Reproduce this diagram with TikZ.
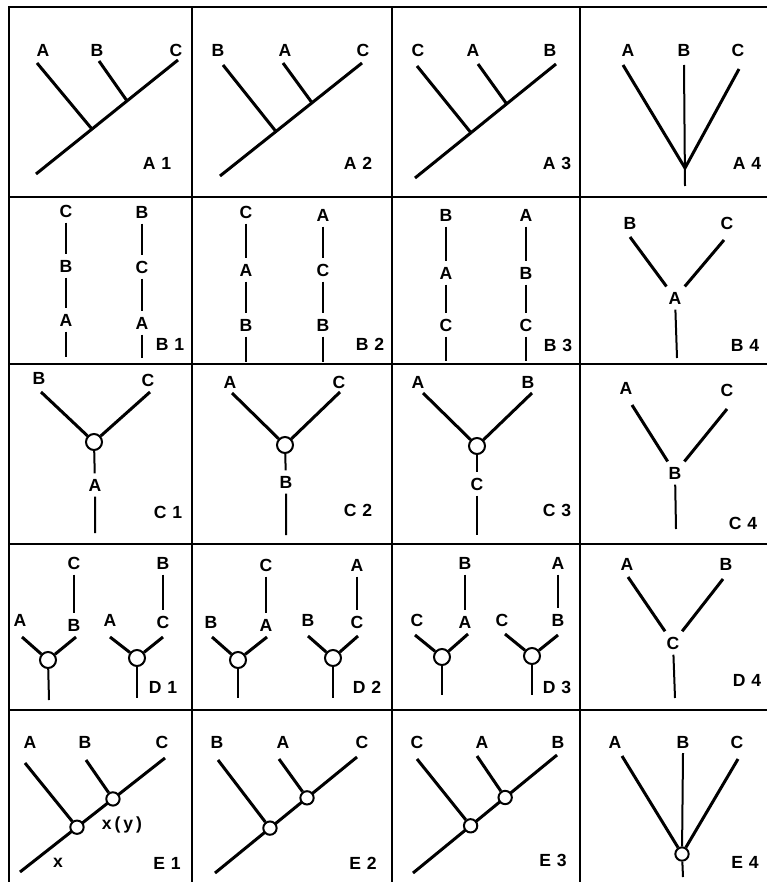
\documentclass[tikz,border=0pt]{standalone}
\usepackage{fontspec}
\setmainfont{Liberation Sans}
\usetikzlibrary{calc}

\begin{document}
\begin{tikzpicture}[
  x=0.3mm,y=-0.3mm,
  font=\bfseries\fontsize{15}{17}\selectfont,
  grid/.style={line width=0.6mm},
  branch/.style={line width=0.9mm},
  stem/.style={line width=0.6mm},
  lbl/.style={inner sep=4.5pt},
  tag/.style={inner sep=0pt},
  knot/.style={circle,draw,fill=white,line width=0.6mm,minimum size=4.8mm,inner sep=0pt},
  knotsm/.style={knot,minimum size=4mm}
]
\useasboundingbox (0,0) rectangle (767,882);
% table
\draw[grid] (8.5,882) -- (8.5,7.5) -- (767,7.5);
\draw[grid] (192,7.5) -- (192,882);
\draw[grid] (392,7.5) -- (392,882);
\draw[grid] (580,7.5) -- (580,882);
\draw[grid] (8.5,197) -- (767,197);
\draw[grid] (8.5,364) -- (767,364);
\draw[grid] (8.5,544) -- (767,544);
\draw[grid] (8.5,710) -- (767,710);

% row A
\node[lbl] (a1A) at (43,50) {A};
\node[lbl] (a1B) at (97,50) {B};
\node[lbl] (a1C) at (176,50) {C};
\coordinate (a1tA) at (37,63); \coordinate (a1tB) at (99,61); \coordinate (a1tC) at (178,60);
\coordinate (a1r) at (36,174);
\coordinate (a1j1) at ($(a1r)!0.394!(a1tC)$); \coordinate (a1j2) at ($(a1r)!0.641!(a1tC)$);
\draw[branch] (a1r) -- (a1tC) (a1tA) -- (a1j1) (a1tB) -- (a1j2);
\node[tag] (a1) at (157,163) {A\hspace{5pt}1};

\node[lbl] (a2B) at (218,50) {B};
\node[lbl] (a2A) at (285,50) {A};
\node[lbl] (a2C) at (363,50) {C};
\coordinate (a2tB) at (223,65); \coordinate (a2tA) at (283,63); \coordinate (a2tC) at (362,63);
\coordinate (a2r) at (220,176);
\coordinate (a2j1) at ($(a2r)!0.394!(a2tC)$); \coordinate (a2j2) at ($(a2r)!0.648!(a2tC)$);
\draw[branch] (a2r) -- (a2tC) (a2tB) -- (a2j1) (a2tA) -- (a2j2);
\node[tag] (a2) at (358,163) {A\hspace{5pt}2};

\node[lbl] (a3C) at (418,50) {C};
\node[lbl] (a3A) at (473,50) {A};
\node[lbl] (a3B) at (550,50) {B};
\coordinate (a3tC) at (417,66); \coordinate (a3tA) at (478,64); \coordinate (a3tB) at (556,64);
\coordinate (a3r) at (415,178);
\coordinate (a3j1) at ($(a3r)!0.397!(a3tB)$); \coordinate (a3j2) at ($(a3r)!0.65!(a3tB)$);
\draw[branch] (a3r) -- (a3tB) (a3tC) -- (a3j1) (a3tA) -- (a3j2);
\node[tag] (a3) at (557,163) {A\hspace{5pt}3};

\node[lbl] (a4A) at (628,50) {A};
\node[lbl] (a4B) at (684,50) {B};
\node[lbl] (a4C) at (738,50) {C};
\coordinate (a4tA) at (623,65); \coordinate (a4tB) at (684,65); \coordinate (a4tC) at (739,69);
\coordinate (a4v) at (685,168); \coordinate (a4b) at (685,186);
\draw[branch] (a4tA) -- (a4v) -- (a4tC);
\draw[stem] (a4tB) -- (a4b);
\node[tag] (a4) at (747,163) {A\hspace{5pt}4};

% row B
\node[lbl] (b1lC) at (66,211) {C};
\node[lbl] (b1lB) at (66,266) {B};
\node[lbl] (b1lA) at (66,320) {A};
\coordinate (b1lb) at (66,357);
\node[lbl] (b1rB) at (142,212) {B};
\node[lbl] (b1rC) at (142,267) {C};
\node[lbl] (b1rA) at (142,323) {A};
\coordinate (b1rb) at (142,358);
\draw[stem] (b1lC) -- (b1lB) -- (b1lA) -- (b1lb);
\draw[stem] (b1rB) -- (b1rC) -- (b1rA) -- (b1rb);
\node[tag] (b1) at (170,344) {B\hspace{5pt}1};

\node[lbl] (b2lC) at (246,212) {C};
\node[lbl] (b2lA) at (246,270) {A};
\node[lbl] (b2lB) at (246,325) {B};
\coordinate (b2lb) at (246,362);
\node[lbl] (b2rA) at (323,215) {A};
\node[lbl] (b2rC) at (323,270) {C};
\node[lbl] (b2rB) at (323,325) {B};
\coordinate (b2rb) at (323,362);
\draw[stem] (b2lC) -- (b2lA) -- (b2lB) -- (b2lb);
\draw[stem] (b2rA) -- (b2rC) -- (b2rB) -- (b2rb);
\node[tag] (b2) at (370,344) {B\hspace{5pt}2};

\node[lbl] (b3lB) at (446,215) {B};
\node[lbl] (b3lA) at (446,273) {A};
\node[lbl] (b3lC) at (446,325) {C};
\coordinate (b3lb) at (446,361);
\node[lbl] (b3rA) at (526,215) {A};
\node[lbl] (b3rB) at (526,273) {B};
\node[lbl] (b3rC) at (526,325) {C};
\coordinate (b3rb) at (526,361);
\draw[stem] (b3lB) -- (b3lA) -- (b3lC) -- (b3lb);
\draw[stem] (b3rA) -- (b3rB) -- (b3rC) -- (b3rb);
\node[tag] (b3) at (558,345) {B\hspace{5pt}3};

\node[lbl] (b4B) at (630,223) {B};
\node[lbl] (b4C) at (727,223) {C};
\node[lbl] (b4A) at (675,298) {A};
\coordinate (b4tB) at (630,237); \coordinate (b4tC) at (724,240); \coordinate (b4b) at (677,358);
\draw[branch] (b4tB) -- (b4A) (b4tC) -- (b4A);
\draw[stem] (b4A) -- (b4b);
\node[tag] (b4) at (745,345) {B\hspace{5pt}4};

% row C
\node[lbl] (c1B) at (39,378) {B};
\node[lbl] (c1C) at (148,380) {C};
\node[knot] (c1k) at (94,442) {};
\node[lbl] (c1A) at (95,485) {A};
\coordinate (c1tB) at (41,392); \coordinate (c1tC) at (150,392); \coordinate (c1b) at (95,533);
\draw[branch] (c1tB) -- (c1k) -- (c1tC);
\draw[stem] (c1k) -- (c1A) -- (c1b);
\node[tag] (c1) at (168,512) {C\hspace{5pt}1};

\node[lbl] (c2A) at (230,382) {A};
\node[lbl] (c2C) at (339,382) {C};
\node[knot] (c2k) at (285,445) {};
\node[lbl] (c2B) at (286,482) {B};
\coordinate (c2tA) at (232,393); \coordinate (c2tC) at (340,392); \coordinate (c2b) at (286,535);
\draw[branch] (c2tA) -- (c2k) -- (c2tC);
\draw[stem] (c2k) -- (c2B) -- (c2b);
\node[tag] (c2) at (358,510) {C\hspace{5pt}2};

\node[lbl] (c3A) at (418,382) {A};
\node[lbl] (c3B) at (528,382) {B};
\node[knot] (c3k) at (477,446) {};
\node[lbl] (c3C) at (477,484) {C};
\coordinate (c3tA) at (423,393); \coordinate (c3tB) at (532,393); \coordinate (c3b) at (477,535);
\draw[branch] (c3tA) -- (c3k) -- (c3tB);
\draw[stem] (c3k) -- (c3C) -- (c3b);
\node[tag] (c3) at (557,510) {C\hspace{5pt}3};

\node[lbl] (c4A) at (626,388) {A};
\node[lbl] (c4C) at (727,390) {C};
\node[lbl] (c4B) at (675,473) {B};
\coordinate (c4tA) at (632,405); \coordinate (c4tC) at (727,409); \coordinate (c4b) at (676,529);
\draw[branch] (c4tA) -- (c4B) (c4tC) -- (c4B);
\draw[stem] (c4B) -- (c4b);
\node[tag] (c4) at (743,523) {C\hspace{5pt}4};

% row D
\node[lbl] (d1lC) at (74,563) {C};
\node[lbl] (d1lB) at (74,625) {B};
\node[lbl] (d1lA) at (20,620) {A};
\node[knot] (d1lk) at (48,660) {};
\coordinate (d1ltA) at (22,637); \coordinate (d1ltB) at (76,637); \coordinate (d1lb) at (49,700);
\draw[stem] (d1lC) -- (d1lB);
\draw[branch] (d1ltA) -- (d1lk) -- (d1ltB);
\draw[stem] (d1lk) -- (d1lb);
\node[lbl] (d1rB) at (163,563) {B};
\node[lbl] (d1rC) at (163,622) {C};
\node[lbl] (d1rA) at (110,620) {A};
\node[knot] (d1rk) at (137,658) {};
\coordinate (d1rtA) at (110,637); \coordinate (d1rtC) at (163,637); \coordinate (d1rb) at (137,698);
\draw[stem] (d1rB) -- (d1rC);
\draw[branch] (d1rtA) -- (d1rk) -- (d1rtC);
\draw[stem] (d1rk) -- (d1rb);
\node[tag] (d1) at (163,687) {D\hspace{5pt}1};

\node[lbl] (d2lC) at (266,565) {C};
\node[lbl] (d2lA) at (266,625) {A};
\node[lbl] (d2lB) at (211,622) {B};
\node[knot] (d2lk) at (238,660) {};
\coordinate (d2ltB) at (212,637); \coordinate (d2ltA) at (267,637); \coordinate (d2lb) at (238,698);
\draw[stem] (d2lC) -- (d2lA);
\draw[branch] (d2ltB) -- (d2lk) -- (d2ltA);
\draw[stem] (d2lk) -- (d2lb);
\node[lbl] (d2rA) at (357,565) {A};
\node[lbl] (d2rC) at (357,622) {C};
\node[lbl] (d2rB) at (308,620) {B};
\node[knot] (d2rk) at (333,658) {};
\coordinate (d2rtB) at (308,636); \coordinate (d2rtC) at (358,636); \coordinate (d2rb) at (333,698);
\draw[stem] (d2rA) -- (d2rC);
\draw[branch] (d2rtB) -- (d2rk) -- (d2rtC);
\draw[stem] (d2rk) -- (d2rb);
\node[tag] (d2) at (367,687) {D\hspace{5pt}2};

\node[lbl] (d3lB) at (465,563) {B};
\node[lbl] (d3lA) at (465,622) {A};
\node[lbl] (d3lC) at (417,620) {C};
\node[knot] (d3lk) at (442,657) {};
\coordinate (d3ltC) at (415,635); \coordinate (d3ltA) at (468,634); \coordinate (d3lb) at (442,695);
\draw[stem] (d3lB) -- (d3lA);
\draw[branch] (d3ltC) -- (d3lk) -- (d3ltA);
\draw[stem] (d3lk) -- (d3lb);
\node[lbl] (d3rA) at (558,563) {A};
\node[lbl] (d3rB) at (558,620) {B};
\node[lbl] (d3rC) at (502,620) {C};
\node[knot] (d3rk) at (532,656) {};
\coordinate (d3rtC) at (505,634); \coordinate (d3rtB) at (558,635); \coordinate (d3rb) at (532,695);
\draw[stem] (d3rA) -- (d3rB);
\draw[branch] (d3rtC) -- (d3rk) -- (d3rtB);
\draw[stem] (d3rk) -- (d3rb);
\node[tag] (d3) at (557,687) {D\hspace{5pt}3};

\node[lbl] (d4A) at (627,564) {A};
\node[lbl] (d4B) at (726,564) {B};
\node[lbl] (d4C) at (673,643) {C};
\coordinate (d4tA) at (628,577); \coordinate (d4tB) at (723,579); \coordinate (d4b) at (675,698);
\draw[branch] (d4tA) -- (d4C) (d4tB) -- (d4C);
\draw[stem] (d4C) -- (d4b);
\node[tag] (d4) at (747,680) {D\hspace{5pt}4};

% row E
\node[lbl] (e1A) at (30,742) {A};
\node[lbl] (e1B) at (85,742) {B};
\node[lbl] (e1C) at (162,742) {C};
\coordinate (e1tA) at (25,763); \coordinate (e1tB) at (86,760); \coordinate (e1tC) at (165,758);
\coordinate (e1r) at (20,872);
\draw[branch] (e1r) -- (e1tC);
\node[knotsm] (e1k1) at ($(e1r)!0.393!(e1tC)$) {};
\node[knotsm] (e1k2) at ($(e1r)!0.641!(e1tC)$) {};
\draw[branch] (e1tA) -- (e1k1) (e1tB) -- (e1k2);
\node[lbl] (e1xy) at (122,825) {x\,(\,y\,)};
\node[lbl] (e1x) at (58,863) {x};
\node[tag] (e1) at (167,863) {E\hspace{5pt}1};

\node[lbl] (e2B) at (217,742) {B};
\node[lbl] (e2A) at (283,742) {A};
\node[lbl] (e2C) at (362,742) {C};
\coordinate (e2tB) at (218,760); \coordinate (e2tA) at (279,759); \coordinate (e2tC) at (357,757);
\coordinate (e2r) at (215,873);
\draw[branch] (e2r) -- (e2tC);
\node[knotsm] (e2k1) at ($(e2r)!0.387!(e2tC)$) {};
\node[knotsm] (e2k2) at ($(e2r)!0.648!(e2tC)$) {};
\draw[branch] (e2tB) -- (e2k1) (e2tA) -- (e2k2);
\node[tag] (e2) at (363,863) {E\hspace{5pt}2};

\node[lbl] (e3C) at (417,742) {C};
\node[lbl] (e3A) at (482,742) {A};
\node[lbl] (e3B) at (558,742) {B};
\coordinate (e3tC) at (417,759); \coordinate (e3tA) at (477,756); \coordinate (e3tB) at (557,755);
\coordinate (e3r) at (413,873);
\draw[branch] (e3r) -- (e3tB);
\node[knotsm] (e3k1) at ($(e3r)!0.40!(e3tB)$) {};
\node[knotsm] (e3k2) at ($(e3r)!0.64!(e3tB)$) {};
\draw[branch] (e3tC) -- (e3k1) (e3tA) -- (e3k2);
\node[tag] (e3) at (553,860) {E\hspace{5pt}3};

\node[lbl] (e4A) at (615,742) {A};
\node[lbl] (e4B) at (683,742) {B};
\node[lbl] (e4C) at (737,742) {C};
\coordinate (e4tA) at (622,756); \coordinate (e4tB) at (683,753); \coordinate (e4tC) at (738,759);
\node[knotsm] (e4k) at (682,854) {};
\coordinate (e4b) at (683,877);
\draw[branch] (e4tA) -- (e4k) -- (e4tC);
\draw[stem] (e4tB) -- (e4k) -- (e4b);
\node[tag] (e4) at (745,862) {E\hspace{5pt}4};
\end{tikzpicture}
\end{document}
